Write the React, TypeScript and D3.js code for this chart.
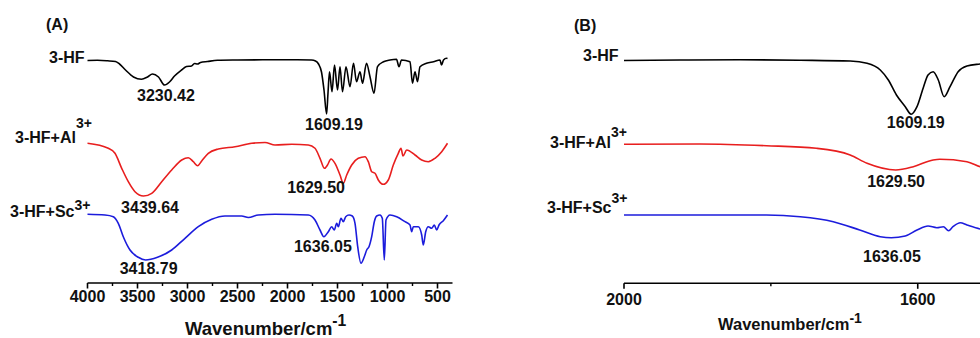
import React from 'react';
import * as d3 from 'd3';

const W = 980;
const H = 338;
const FONT = '"Liberation Sans", Arial, Helvetica, sans-serif';

// FT-IR spectra: [wavenumber (cm^-1), transmittance (a.u., baseline = 100)]
const hfFull: [number, number][] = [
  [4000, 100], [3900, 100.2], [3800, 99.7], [3720, 99], [3680, 96.5], [3620, 90.5],
  [3540, 83.5], [3460, 81.2], [3400, 83.5], [3350, 86.5], [3290, 83.5], [3230, 75.5],
  [3180, 78.5], [3130, 84.5], [3060, 90.5], [3010, 94], [2960, 94.5], [2930, 97],
  [2900, 96.5], [2870, 98], [2800, 99], [2700, 100.2], [2500, 100.5], [2200, 100.7],
  [1900, 100.8], [1760, 100.5], [1720, 99.5], [1690, 96.5], [1660, 88.5], [1635, 70.5],
  [1609, 46.5], [1595, 67.5], [1580, 88.8], [1555, 68.8], [1530, 95.5], [1500, 70.5],
  [1475, 93.8], [1450, 68.8], [1415, 93.8], [1375, 73.8], [1340, 97.2], [1310, 78.8],
  [1275, 88.8], [1250, 77.2], [1210, 97.2], [1175, 83.8], [1135, 67.2], [1100, 93.8],
  [1040, 98.8], [975, 100.5], [910, 101.2], [885, 93.8], [860, 100.5], [775, 98.8],
  [750, 77.2], [725, 88.8], [700, 78.8], [675, 93.8], [610, 97.2], [540, 98.8],
  [475, 100.5], [460, 95.5], [440, 100.5], [410, 102.2], [400, 102],
];

const hfAlFull: [number, number][] = [
  [4000, 100.7], [3792, 95.7], [3725, 90.7], [3658, 75.7], [3592, 62.3], [3525, 52.3],
  [3440, 48], [3358, 50.7], [3258, 62.3], [3158, 74], [3058, 84], [2992, 86.3],
  [2942, 82.3], [2898, 78.3], [2858, 83], [2792, 90.7], [2692, 95], [2525, 97.3],
  [2358, 100.7], [2225, 101.5], [2125, 99], [1958, 99.7], [1792, 99], [1725, 95.7],
  [1675, 85.7], [1630, 75.7], [1600, 79], [1565, 85], [1525, 80.7], [1475, 69],
  [1442, 60.7], [1408, 69], [1358, 79], [1292, 85.7], [1225, 87.3], [1192, 82.3],
  [1158, 72.3], [1125, 70.7], [1092, 64], [1042, 59.7], [992, 64], [942, 79],
  [892, 90.7], [865, 95.7], [845, 88], [808, 94], [725, 89], [658, 84], [592, 82.3],
  [525, 85.7], [458, 92.3], [400, 100.7],
];

const hfScFull: [number, number][] = [
  [4000, 100.2], [3825, 99.5], [3742, 97.8], [3692, 91.2], [3642, 77.8], [3575, 64.5],
  [3492, 57.2], [3419, 54.5], [3300, 57.2], [3158, 64.5], [3025, 76.2], [2892, 87.8],
  [2758, 95.2], [2625, 98.5], [2458, 98.5], [2392, 97], [2292, 99.5], [2125, 100.2],
  [1792, 99.5], [1725, 94.5], [1675, 84.5], [1636, 77.8], [1592, 82.8], [1558, 87.8],
  [1532, 84.5], [1508, 91.2], [1492, 87.8], [1465, 96.2], [1442, 92.8], [1418, 97.8],
  [1385, 99.5], [1352, 98.5], [1325, 91.2], [1298, 67.8], [1265, 51.2], [1232, 57.8],
  [1208, 64.5], [1185, 67.8], [1158, 77.8], [1132, 92.8], [1108, 98.5], [1075, 99.5],
  [1052, 96.2], [1032, 54.5], [1015, 94.5], [975, 99.5], [908, 97.8], [825, 92.8],
  [775, 89.5], [758, 82.8], [742, 87.8], [692, 87.8], [658, 79.5], [642, 69.5],
  [618, 82.8], [592, 87.8], [558, 86.2], [532, 89.5], [508, 84.5], [485, 89.5],
  [442, 93.8], [400, 99.5],
];

// Expanded 2000–1500 cm^-1 region
const hfZoom: [number, number][] = [
  [2000, 100], [1924, 100.5], [1842, 100.8], [1760, 100.3], [1692, 99.5], [1669, 97.2],
  [1651, 90.5], [1640, 80.5], [1629, 65.5], [1617, 53.8], [1609, 46.2], [1601, 53.8],
  [1592, 73.8], [1586, 85.5], [1579, 88.8], [1572, 80.5], [1564, 63.8], [1556, 73.8],
  [1545, 88.8], [1533, 94.5], [1515, 96.5], [1495, 98],
];

const hfAlZoom: [number, number][] = [
  [2000, 99.7], [1897, 100], [1806, 98.3], [1738, 95.7], [1692, 89], [1669, 80.7],
  [1630, 74], [1606, 77.3], [1579, 84], [1570, 84.7], [1533, 82.3], [1515, 77.3],
  [1495, 74],
];

const hfScZoom: [number, number][] = [
  [2000, 99.5], [1806, 99.5], [1760, 97.8], [1715, 92.8], [1679, 84.5], [1651, 77.8],
  [1636, 76.8], [1617, 78.5], [1601, 84.5], [1586, 88.5], [1574, 86.8], [1565, 87.8],
  [1558, 83.8], [1552, 87.8], [1542, 91.8], [1533, 89.5], [1515, 85.5], [1495, 84],
];

const seriesNames = ['3-HF', '3-HF+Al', '3-HF+Sc'];
const seriesColors = ['#000000', '#e81e1e', '#1c1cdc'];
// vertical stacking of the three spectra
const seriesOffsets = [0, 83.5, 154];

const ticksA = [4000, 3500, 3000, 2500, 2000, 1500, 1000, 500];
const minorTicksA = [3750, 3250, 2750, 2250, 1750, 1250, 750];
const ticksB = [2000, 1600];
const minorTicksB = [1800, 1400];

// peak annotations: [series index, wavenumber, label, dx, baseline y-shift]
const peaksA: [number, number, string, number, number][] = [
  [0, 3230.42, '3230.42', 1.5, 16],
  [0, 1609.19, '1609.19', 7.4, 16],
  [1, 3439.64, '3439.64', 6.5, 17],
  [1, 1629.5, '1629.50', -8.5, 25],
  [2, 3418.79, '3418.79', 3, 13.5],
  [2, 1636.05, '1636.05', -1, 15],
];
const peaksB: [number, number, string, number, number][] = [
  [0, 1609.19, '1609.19', 4.8, 14],
  [1, 1629.5, '1629.50', 0, 17],
  [2, 1636.05, '1636.05', 0.7, 24],
];

const y = d3.scaleLinear().domain([0, 100]).range([160.5, 60.5]);

type PanelProps = {
  x: d3.ScaleLinear<number, number>;
  data: [number, number][][];
  ticks: number[];
  minorTicks: number[];
  axisY: number;
  tickLabelY: number;
  peaks: [number, number, string, number, number][];
  title: { x: number; y: number; size: number };
  tag: { text: string; x: number; y: number };
  labels: { x: number; y: number; sup: number }[];
};

function Panel({ x, data, ticks, minorTicks, axisY, tickLabelY, peaks, title, tag, labels }: PanelProps) {
  const [x0, x1] = x.range();
  const line = (i: number) =>
    d3
      .line<[number, number]>()
      .x((d) => x(d[0]))
      .y((d) => y(d[1] - seriesOffsets[i]))
      .curve(d3.curveMonotoneX)(data[i]) || '';

  return (
    <g fontFamily={FONT} fontWeight="bold" fill="#111">
      <text x={tag.x} y={tag.y} fontSize={16}>{tag.text}</text>

      {data.map((_, i) => (
        <path key={i} d={line(i)} fill="none" stroke={seriesColors[i]} strokeWidth={1.6} strokeLinejoin="round" />
      ))}

      {labels.map((l, i) => (
        <text key={i} x={l.x} y={l.y} fontSize={16}>
          {seriesNames[i]}
          {i > 0 && (
            <tspan dy={-l.sup} fontSize={14}>3+</tspan>
          )}
        </text>
      ))}

      {peaks.map(([s, wn, txt, dx, dy], i) => {
        const minT = d3.min(data[s].filter((d) => Math.abs(d[0] - wn) < 30), (d) => d[1]) ?? 100;
        return (
          <text key={i} x={x(wn) + dx} y={y(minT - seriesOffsets[s]) + dy} fontSize={16} textAnchor="middle">
            {txt}
          </text>
        );
      })}

      <line x1={x0} x2={Math.min(x1, W + 10)} y1={axisY} y2={axisY} stroke="#000" strokeWidth={1.6} />
      {ticks.map((t) => (
        <g key={t}>
          <line x1={x(t)} x2={x(t)} y1={axisY} y2={axisY + 5.5} stroke="#000" strokeWidth={1.6} />
          <text x={x(t)} y={tickLabelY} fontSize={16} textAnchor="middle">{t}</text>
        </g>
      ))}
      {minorTicks.map((t) => (
        <line key={t} x1={x(t)} x2={x(t)} y1={axisY} y2={axisY + 3} stroke="#000" strokeWidth={1.4} />
      ))}

      <text x={title.x} y={title.y} fontSize={title.size}>
        Wavenumber/cm
        <tspan dy={-title.size * 0.45} fontSize={title.size * 0.85}>-1</tspan>
      </text>
    </g>
  );
}

export default function App() {
  const xA = d3.scaleLinear().domain([4000, 350]).range([87.5, 452.5]);
  const xB = d3.scaleLinear().domain([2000, 1400]).range([624, 1064.6]);

  return (
    <svg
      width={W}
      height={H}
      viewBox={`0 0 ${W} ${H}`}
      style={{ position: 'absolute', left: 0, top: 0, background: '#fff', overflow: 'hidden' }}
    >
      <rect width={W} height={H} fill="#fff" />
      <Panel
        x={xA}
        data={[hfFull, hfAlFull, hfScFull]}
        ticks={ticksA}
        minorTicks={minorTicksA}
        axisY={283}
        tickLabelY={301.5}
        peaks={peaksA}
        title={{ x: 185, y: 334.5, size: 18.5 }}
        tag={{ text: '(A)', x: 46, y: 30 }}
        labels={[
          { x: 49, y: 63.3, sup: 0 },
          { x: 15, y: 142.7, sup: 14.5 },
          { x: 10, y: 216.5, sup: 7 },
        ]}
      />
      <Panel
        x={xB}
        data={[hfZoom, hfAlZoom, hfScZoom]}
        ticks={ticksB}
        minorTicks={minorTicksB}
        axisY={283.3}
        tickLabelY={305}
        peaks={peaksB}
        title={{ x: 718, y: 330, size: 16.5 }}
        tag={{ text: '(B)', x: 574, y: 31 }}
        labels={[
          { x: 583, y: 60.5, sup: 0 },
          { x: 550, y: 147.5, sup: 10.5 },
          { x: 547, y: 213.3, sup: 10.5 },
        ]}
      />
    </svg>
  );
}
